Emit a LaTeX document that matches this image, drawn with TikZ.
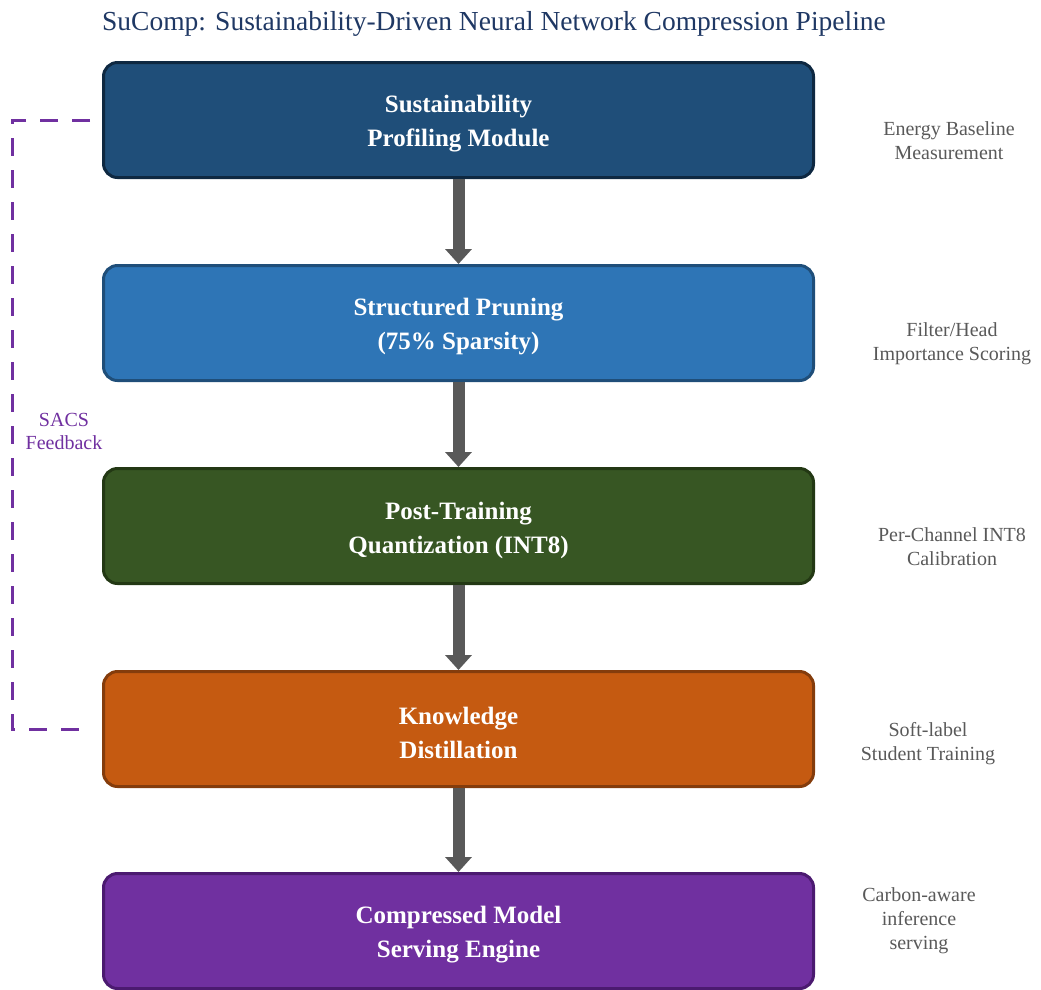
\documentclass[tikz,border=0pt]{standalone}
\usepackage{fontspec}
\setmainfont{Liberation Serif}
\usetikzlibrary{arrows.meta}
\definecolor{titleblue}{HTML}{1F3864}
\definecolor{labelgray}{HTML}{595959}
\definecolor{arrowgray}{HTML}{595959}
\definecolor{fbpurple}{HTML}{7030A0}
\definecolor{fillA}{HTML}{1F4E79}\definecolor{edgeA}{HTML}{0E2841}
\definecolor{fillB}{HTML}{2E75B6}\definecolor{edgeB}{HTML}{1F4E79}
\definecolor{fillC}{HTML}{375623}\definecolor{edgeC}{HTML}{233814}
\definecolor{fillD}{HTML}{C55A11}\definecolor{edgeD}{HTML}{843C0C}
\definecolor{fillE}{HTML}{7030A0}\definecolor{edgeE}{HTML}{4B1A70}
\tikzset{
  stage/.style={rounded corners=14pt, line width=3pt, minimum width=710pt,
    minimum height=115pt, inner sep=0pt},
  stagetext/.style={text=white, align=center,
    font=\fontsize{25}{34}\selectfont\bfseries, inner sep=0pt},
  side/.style={text=labelgray, align=center, font=\fontsize{20}{24}\selectfont},
  flow/.style={draw=arrowgray, line width=12pt,
    -{Triangle[width=26pt,length=15pt]}},
  fb/.style={draw=fbpurple, line width=3pt, dash pattern=on 18pt off 14pt}
}
\begin{document}
\begin{tikzpicture}[x=1pt,y=-1pt]
\useasboundingbox (0,0) rectangle (1041,989);
\node[anchor=base, text=titleblue, font=\fontsize{27.5}{30}\selectfont] (title) at (494,30) {SuComp: Sustainability-Driven Neural Network Compression Pipeline};

% pipeline stages
\node[stage, fill=fillA, draw=edgeA] (s1) at (458.5,120) {};
\node[stage, fill=fillB, draw=edgeB] (s2) at (458.5,323) {};
\node[stage, fill=fillC, draw=edgeC] (s3) at (458.5,526) {};
\node[stage, fill=fillD, draw=edgeD] (s4) at (458.5,729) {};
\node[stage, fill=fillE, draw=edgeE] (s5) at (458.5,931) {};

\node[stagetext] (t1) at ([yshift=-4pt]s1.center) {Sustainability\\Profiling Module};
\node[stagetext] (t2) at ([yshift=-4pt]s2.center) {Structured Pruning\\(75\% Sparsity)};
\node[stagetext] (t3) at ([yshift=-4pt]s3.center) {Post-Training\\Quantization (INT8)};
\node[stagetext] (t4) at ([yshift=-4pt]s4.center) {Knowledge\\Distillation};
\node[stagetext] (t5) at ([yshift=-4pt]s5.center) {Compressed Model\\Serving Engine};

\draw[flow] (s1.south) -- (s2.north);
\draw[flow] (s2.south) -- (s3.north);
\draw[flow] (s3.south) -- (s4.north);
\draw[flow] (s4.south) -- (s5.north);

% feedback loop
\draw[fb] ([xshift=-12pt]s1.west) -- ++(-78,0) |- ([xshift=-12pt]s4.west);
\node[text=fbpurple, align=center, font=\fontsize{20}{23}\selectfont] (fbl) at (64,431) {SACS\\Feedback};

% annotations
\node[side] (n1) at (949,141) {Energy Baseline\\Measurement};
\node[side] (n2) at (952,344) {Filter/Head\\Importance Scoring};
\node[side] (n3) at (952,547) {Per-Channel INT8\\Calibration};
\node[side] (n4) at (928,744) {Soft-label\\Student Training};
\node[side] (n5) at (919,921) {Carbon-aware\\inference\\serving};
\end{tikzpicture}
\end{document}
